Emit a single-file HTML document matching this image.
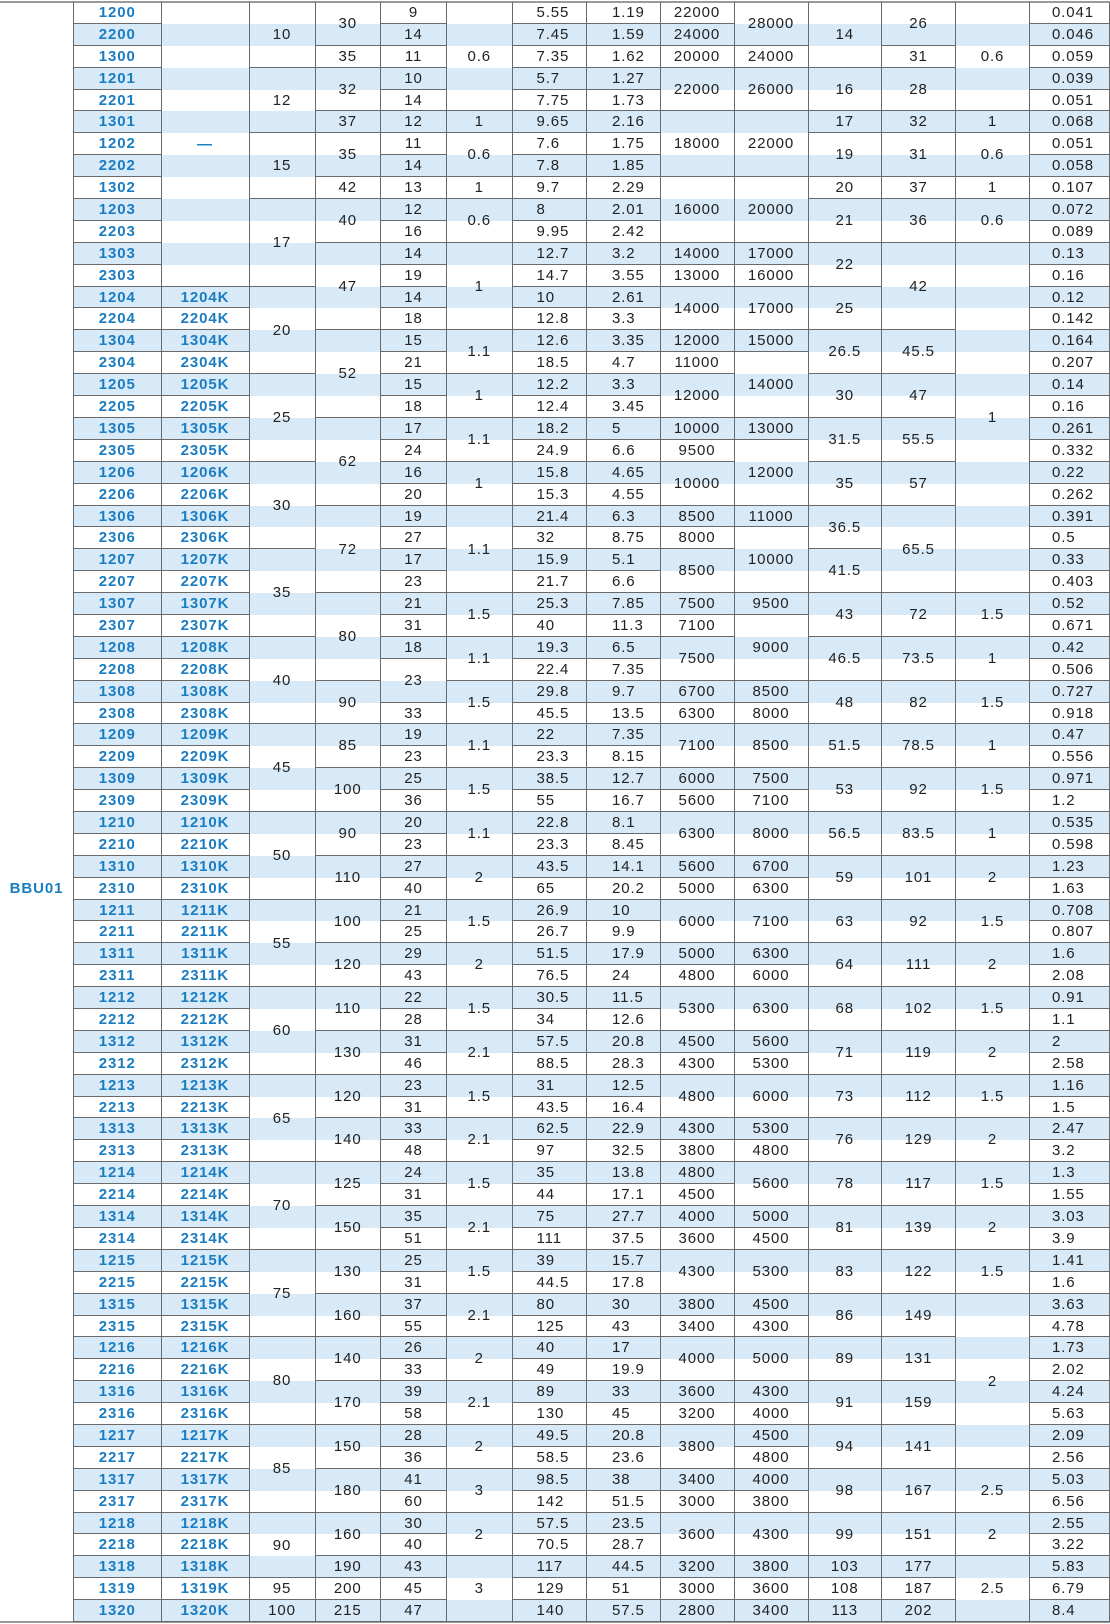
<!DOCTYPE html>
<html><head><meta charset="utf-8">
<style>
html,body{margin:0;padding:0;background:#fff;}
#wrap{position:relative;width:1110px;height:1624px;overflow:hidden;font-family:"Liberation Sans",Arial,sans-serif;font-size:15px;letter-spacing:0.9px;color:#222;}
.stripe{position:absolute;left:73px;width:1037px;background:#d8eaf8;}
.cell{position:absolute;box-sizing:border-box;border-right:1px solid #6a6a6a;border-bottom:1px solid #6a6a6a;display:flex;align-items:center;white-space:nowrap;}
.c{justify-content:center;}
.l{justify-content:flex-start;}
.m{color:#1a7dc2;font-weight:bold;}
.hline{position:absolute;left:0;width:1110px;height:2px;background:#9a9a9a;}
#label{position:absolute;left:0;width:73px;top:877px;height:22px;display:flex;align-items:center;justify-content:center;color:#1a7dc2;font-weight:bold;}
</style></head>
<body>
<div id="wrap">
<div class="hline" style="top:1px"></div>
<div class="hline" style="top:1621px"></div>
<div id="label">BBU01</div>
</div>
<script>
const models = ["1200","2200","1300","1201","2201","1301","1202","2202","1302","1203","2203","1303","2303","1204","2204","1304","2304","1205","2205","1305","2305","1206","2206","1306","2306","1207","2207","1307","2307","1208","2208","1308","2308","1209","2209","1309","2309","1210","2210","1310","2310","1211","2211","1311","2311","1212","2212","1312","2312","1213","2213","1313","2313","1214","2214","1314","2314","1215","2215","1315","2315","1216","2216","1316","2316","1217","2217","1317","2317","1218","2218","1318","1319","1320"];
const boreD = ["3:10","3:12","3:15","4:17","4:20","4:25","4:30","4:35","4:40","4:45","4:50","4:55","4:60","4:65","4:70","4:75","4:80","4:85","3:90","1:95","1:100"];
const outerD = ["2:30","1:35","2:32","1:37","2:35","1:42","2:40","4:47","4:52","4:62","4:72","4:80","2:90","2:85","2:100","2:90","2:110","2:100","2:120","2:110","2:130","2:120","2:140","2:125","2:150","2:130","2:160","2:140","2:170","2:150","2:180","2:160","1:190","1:200","1:215"];
const widthB = [9,14,11,10,14,12,11,14,13,12,16,14,19,14,18,15,21,15,18,17,24,16,20,19,27,17,23,21,31,18,"2:23",33,19,23,25,36,20,23,27,40,21,25,29,43,22,28,31,46,23,31,33,48,24,31,35,51,25,31,37,55,26,33,39,58,28,36,41,60,30,40,43,45,47];
const chamferR = ["5:0.6","1:1","2:0.6","1:1","2:0.6","4:1","2:1.1","2:1","2:1.1","2:1","4:1.1","2:1.5","2:1.1","2:1.5","2:1.1","2:1.5","2:1.1","2:2","2:1.5","2:2","2:1.5","2:2.1","2:1.5","2:2.1","2:1.5","2:2.1","2:1.5","2:2.1","2:2","2:2.1","2:2","2:3","2:2","3:3"];
const loadCr = ["5.55","7.45","7.35","5.7","7.75","9.65","7.6","7.8","9.7","8","9.95","12.7","14.7","10","12.8","12.6","18.5","12.2","12.4","18.2","24.9","15.8","15.3","21.4","32","15.9","21.7","25.3","40","19.3","22.4","29.8","45.5","22","23.3","38.5","55","22.8","23.3","43.5","65","26.9","26.7","51.5","76.5","30.5","34","57.5","88.5","31","43.5","62.5","97","35","44","75","111","39","44.5","80","125","40","49","89","130","49.5","58.5","98.5","142","57.5","70.5","117","129","140"];
const loadC0r = ["1.19","1.59","1.62","1.27","1.73","2.16","1.75","1.85","2.29","2.01","2.42","3.2","3.55","2.61","3.3","3.35","4.7","3.3","3.45","5","6.6","4.65","4.55","6.3","8.75","5.1","6.6","7.85","11.3","6.5","7.35","9.7","13.5","7.35","8.15","12.7","16.7","8.1","8.45","14.1","20.2","10","9.9","17.9","24","11.5","12.6","20.8","28.3","12.5","16.4","22.9","32.5","13.8","17.1","27.7","37.5","15.7","17.8","30","43","17","19.9","33","45","20.8","23.6","38","51.5","23.5","28.7","44.5","51","57.5"];
const speedGrease = ["1:22000","1:24000","1:20000","2:22000","3:18000","3:16000","1:14000","1:13000","2:14000","1:12000","1:11000","2:12000","1:10000","1:9500","2:10000","1:8500","1:8000","2:8500","1:7500","1:7100","2:7500","1:6700","1:6300","2:7100","1:6000","1:5600","2:6300","1:5600","1:5000","2:6000","1:5000","1:4800","2:5300","1:4500","1:4300","2:4800","1:4300","1:3800","1:4800","1:4500","1:4000","1:3600","2:4300","1:3800","1:3400","2:4000","1:3600","1:3200","2:3800","1:3400","1:3000","2:3600","1:3200","1:3000","1:2800"];
const speedOil = ["2:28000","1:24000","2:26000","3:22000","3:20000","1:17000","1:16000","2:17000","1:15000","3:14000","1:13000","3:12000","1:11000","3:10000","1:9500","3:9000","1:8500","1:8000","2:8500","1:7500","1:7100","2:8000","1:6700","1:6300","2:7100","1:6300","1:6000","2:6300","1:5600","1:5300","2:6000","1:5300","1:4800","2:5600","1:5000","1:4500","2:5300","1:4500","1:4300","2:5000","1:4300","1:4000","1:4500","1:4800","1:4000","1:3800","2:4300","1:3800","1:3600","1:3400"];
const mountDa = ["3:14","2:16","1:17","2:19","1:20","2:21","2:22","2:25","2:26.5","2:30","2:31.5","2:35","2:36.5","2:41.5","2:43","2:46.5","2:48","2:51.5","2:53","2:56.5","2:59","2:63","2:64","2:68","2:71","2:73","2:76","2:78","2:81","2:83","2:86","2:89","2:91","2:94","2:98","2:99","1:103","1:108","1:113"];
const mountDaMax = ["2:26","1:31","2:28","1:32","2:31","1:37","2:36","4:42","2:45.5","2:47","2:55.5","2:57","4:65.5","2:72","2:73.5","2:82","2:78.5","2:92","2:83.5","2:101","2:92","2:111","2:102","2:119","2:112","2:129","2:117","2:139","2:122","2:149","2:131","2:159","2:141","2:167","2:151","1:177","1:187","1:202"];
const mountRa = ["5:0.6","1:1","2:0.6","1:1","2:0.6","16:1","2:1.5","2:1","2:1.5","2:1","2:1.5","2:1","2:2","2:1.5","2:2","2:1.5","2:2","2:1.5","2:2","2:1.5","2:2","2:1.5","8:2","2:2.5","2:2","3:2.5"];
const weight = ["0.041","0.046","0.059","0.039","0.051","0.068","0.051","0.058","0.107","0.072","0.089","0.13","0.16","0.12","0.142","0.164","0.207","0.14","0.16","0.261","0.332","0.22","0.262","0.391","0.5","0.33","0.403","0.52","0.671","0.42","0.506","0.727","0.918","0.47","0.556","0.971","1.2","0.535","0.598","1.23","1.63","0.708","0.807","1.6","2.08","0.91","1.1","2","2.58","1.16","1.5","2.47","3.2","1.3","1.55","3.03","3.9","1.41","1.6","3.63","4.78","1.73","2.02","4.24","5.63","2.09","2.56","5.03","6.56","2.55","3.22","5.83","6.79","8.4"];

const wrap = document.getElementById('wrap');
const TOP = 2, PITCH = 1620 / 74;
function rowY(r){ return Math.round(TOP + r * PITCH); }
const colX = [73,161.5,249.5,315.5,381,447,512.5,587,660.5,734.5,808.5,882,956,1030,1110];

for (let r = 0; r < models.length; r++) {
  if (r % 2 === 1) {
    const s = document.createElement('div');
    s.className = 'stripe';
    s.style.top = rowY(r) + 'px';
    s.style.height = (rowY(r + 1) - rowY(r)) + 'px';
    
    
    wrap.appendChild(s);
  }
}

function parseSpans(arr){
  return arr.map(v => {
    const s = String(v);
    if (s.indexOf(':') >= 0) { const p = s.split(':'); return [parseInt(p[0]), p[1]]; }
    return [1, s];
  });
}
function addCol(ci, items, cls, pad, name){
  let r = 0;
  const x0 = colX[ci], x1 = colX[ci + 1];
  items.forEach(([span, text]) => {
    const el = document.createElement('div');
    el.className = 'cell ' + cls;
    el.style.left = x0 + 'px';
    el.style.width = (x1 - x0) + 'px';
    el.style.top = rowY(r) + 'px';
    el.style.height = (rowY(r + span) - rowY(r)) + 'px';
    if (pad) el.style.paddingLeft = pad + 'px';
    if (ci === 0) el.style.borderLeft = '1px solid #6a6a6a';
    el.textContent = text;
    
    
    wrap.appendChild(el);
    r += span;
  });
}
addCol(0, models.map(m => [1, m]), 'c m', 0, 'model-cell');
const kItems = [[13, '—']].concat(models.slice(13).map(m => [1, m + 'K']));
addCol(1, kItems, 'c m', 0, 'tapered-model-cell');
addCol(2, parseSpans(boreD), 'c', 0, 'bore-d-cell');
addCol(3, parseSpans(outerD), 'c', 0, 'outer-d-cell');
addCol(4, parseSpans(widthB), 'c', 0, 'width-b-cell');
addCol(5, parseSpans(chamferR), 'c', 0, 'chamfer-r-cell');
addCol(6, parseSpans(loadCr), 'l', 24, 'dynamic-load-cell');
addCol(7, parseSpans(loadC0r), 'l', 25, 'static-load-cell');
addCol(8, parseSpans(speedGrease), 'c', 0, 'grease-speed-cell');
addCol(9, parseSpans(speedOil), 'c', 0, 'oil-speed-cell');
addCol(10, parseSpans(mountDa), 'c', 0, 'da-min-cell');
addCol(11, parseSpans(mountDaMax), 'c', 0, 'da-max-cell');
addCol(12, parseSpans(mountRa), 'c', 0, 'ra-max-cell');
addCol(13, parseSpans(weight), 'l', 22, 'weight-cell');
</script>
</body></html>
